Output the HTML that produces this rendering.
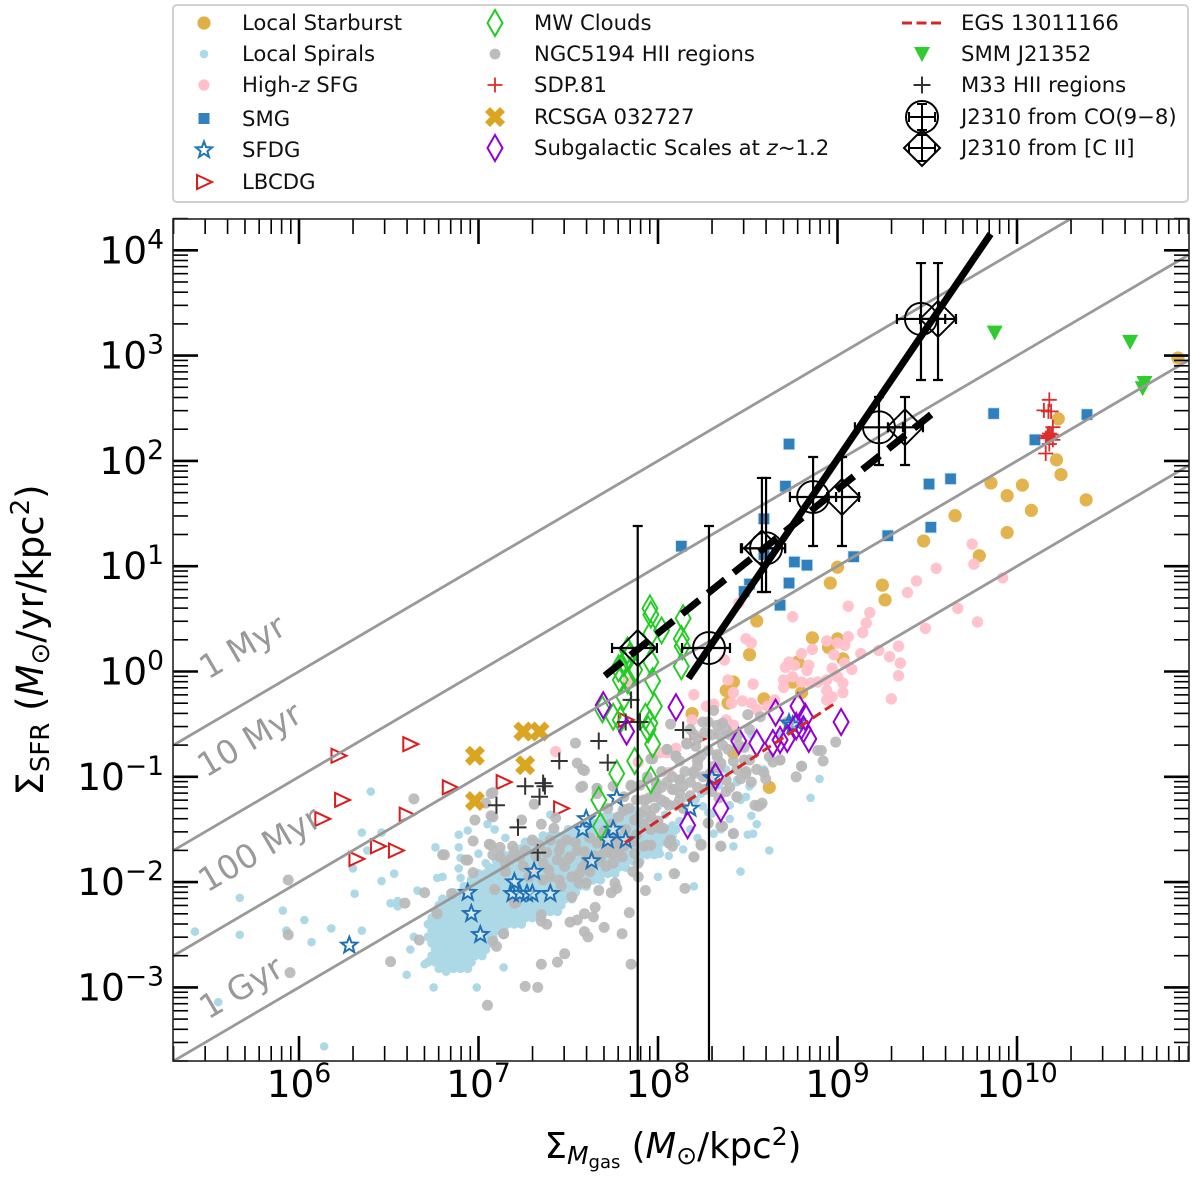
<!DOCTYPE html>
<html lang="en">
<head>
<meta charset="utf-8">
<title>Star formation surface density versus gas surface density</title>
<style>
html,body{margin:0;padding:0;background:#fff;}
svg{display:block;font-family:"DejaVu Sans","Liberation Sans",sans-serif;}
</style>
</head>
<body>
<svg id="chart" xmlns="http://www.w3.org/2000/svg" width="1200" height="1183" viewBox="0 0 1200 1183">
  <defs><clipPath id="plot-clip"><rect x="173" y="219" width="1016" height="842"/></clipPath></defs>
  <rect x="173" y="219" width="1016" height="842" fill="#fff"/>
  <g id="marks" clip-path="url(#plot-clip)"></g>
  <g id="ticks"></g>
  <rect x="173" y="219" width="1016" height="842" fill="none" stroke="#222" stroke-width="1.6"/>
  <g id="tick-labels" font-size="37.5" fill="#000"></g>

  <g font-size="33" fill="#999">
    <text transform="translate(208 680) rotate(-30.4)">1 Myr</text>
    <text transform="translate(206 778) rotate(-30.4)">10 Myr</text>
    <text transform="translate(207 893) rotate(-30.4)">100 Myr</text>
    <text transform="translate(208 1020) rotate(-30.4)">1 Gyr</text>
  </g>

  <text transform="translate(43 640) rotate(-90)" text-anchor="middle" font-size="37">Σ<tspan font-size="26" dy="6">SFR</tspan><tspan dy="-6"> (</tspan><tspan font-style="italic">M</tspan><tspan font-size="26" dy="6">⊙</tspan><tspan dy="-6">/yr/kpc</tspan><tspan font-size="26" dy="-14">2</tspan><tspan dy="14">)</tspan></text>
  <text x="673" y="1158" text-anchor="middle" font-size="35.5">Σ<tspan font-size="25" font-style="italic" dy="6">M</tspan><tspan font-size="18" dy="4">gas</tspan><tspan dy="-10"> (</tspan><tspan font-style="italic">M</tspan><tspan font-size="25" dy="6">⊙</tspan><tspan dy="-6">/kpc</tspan><tspan font-size="25" dy="-13">2</tspan><tspan dy="13">)</tspan></text>

  <g>
    <rect x="173" y="5" width="1015" height="197" rx="4" fill="#fff" stroke="#d0d0d0" stroke-width="2"/>
    <g font-size="21.2" fill="#111">
      <g><circle cx="204" cy="23" r="6.6" fill="#e0b048"/><text x="242" y="30">Local Starburst</text></g>
      <g><circle cx="204" cy="54" r="4.3" fill="#add8e6"/><text x="242" y="61">Local Spirals</text></g>
      <g><circle cx="204" cy="85" r="5.6" fill="#ffc0cb"/><text x="242" y="92">High-<tspan font-style="italic">z</tspan> SFG</text></g>
      <g><rect x="198.5" y="113" width="11" height="11" fill="#3182bd"/><text x="242" y="126">SMG</text></g>
      <g><path d="M204 141.5L206.1 147.1 212.1 147.4 207.4 151.2 209 157 204 153.7 199 157 200.6 151.2 195.9 147.4 201.9 147.1Z" fill="#fff" stroke="#1f77b4" stroke-width="2"/><text x="242" y="157">SFDG</text></g>
      <g><path d="M197 175L212 182 197 189Z" fill="none" stroke="#dc1c1c" stroke-width="2"/><text x="242" y="189">LBCDG</text></g>

      <g><path d="M495 10L502.5 23 495 36 487.5 23Z" fill="none" stroke="#22cc22" stroke-width="2"/><text x="534" y="30">MW Clouds</text></g>
      <g><circle cx="495" cy="54" r="5.4" fill="#bdbdbd"/><text x="534" y="61">NGC5194 HII regions</text></g>
      <g><path d="M487.5 85H502.5M495 77.5V92.5" stroke="#dc2c2c" stroke-width="1.8" fill="none"/><text x="534" y="92">SDP.81</text></g>
      <g><path d="M490 107L495 112 500 107 505 112 500 117 505 122 500 127 495 122 490 127 485 122 490 117 485 112Z" fill="#daa520"/><text x="534" y="124">RCSGA 032727</text></g>
      <g><path d="M495 135L502.5 148 495 161 487.5 148Z" fill="none" stroke="#9400d3" stroke-width="2"/><text x="534" y="155">Subgalactic Scales at <tspan font-style="italic">z</tspan>~1.2</text></g>

      <g><path d="M902 23H944" stroke="#d62728" stroke-width="3" stroke-dasharray="10 4.5" fill="none"/><text x="961" y="30">EGS 13011166</text></g>
      <g><path d="M914 47H930L922 62Z" fill="#2ecc2e"/><text x="961" y="61">SMM J21352</text></g>
      <g><path d="M913.5 85H930.5M922 76.5V93.5" stroke="#333" stroke-width="2" fill="none"/><text x="961" y="92">M33 HII regions</text></g>
      <g fill="none" stroke="#000" stroke-width="2"><circle cx="922" cy="117" r="16"/><path d="M909 117H935M909 112V122M935 112V122M922 104V130M917 104H927M917 130H927"/><text x="961" y="124" fill="#111" stroke="none">J2310 from CO(9−8)</text></g>
      <g fill="none" stroke="#000" stroke-width="2"><path d="M922 130L940 148 922 166 904 148Z"/><path d="M909 148H935M909 143V153M935 143V153M922 135V161M917 135H927M917 161H927"/><text x="961" y="155" fill="#111" stroke="none">J2310 from [C II]</text></g>
    </g>
  </g>
</svg>

<script>
// All series are log10(value): x = log10 Sigma_gas (Msun/kpc^2), y = log10 Sigma_SFR (Msun/yr/kpc^2)
const xTickExponents = [6, 7, 8, 9, 10];
const yTickExponents = [-3, -2, -1, 0, 1, 2, 3, 4];
const depletionLogYears = [6, 7, 8, 9];

const localStarburst = [[10.897,2.977],[10.23,2.40],[10.22,2.01],[10.245,1.87],[9.855,1.79],[9.945,1.67],[10.03,1.77],[10.08,1.53],[10.385,1.63],[9.655,1.48],[9.945,1.32],[9.48,1.24],[9.79,1.10],[9.25,0.82],[9.265,0.68],[9.0,0.99],[8.96,0.84],[8.55,0.48],[8.86,0.32],[9.0,0.31],[8.51,0.16],[9.03,0.12],[8.95,0.23],[8.78,0.09],[8.75,-0.10],[8.42,-0.10],[8.38,-0.18],[8.39,-0.30],[8.80,-0.20],[8.59,-0.26],[8.19,-0.40],[8.42,-0.77],[8.62,-1.10]];

const localSpiralsScatter = [[5.42,-2.47],[5.67,-2.15],[5.67,-2.50],[5.91,-2.27],[5.93,-2.46],[6.03,-2.36],[6.07,-2.57],[6.18,-2.44],[6.35,-2.46],[6.31,-2.11],[6.30,-1.87],[6.46,-1.99],[6.53,-1.92],[6.51,-2.20],[6.55,-2.18],[6.55,-2.23],[6.66,-2.08],[5.55,-3.14],[6.14,-3.56],[6.60,-2.88],[6.75,-3.0],[6.99,-3.0],[7.14,-2.81],[6.64,-2.52],[6.62,-2.64],[6.70,-2.78],[6.82,-2.85],[6.40,-1.14],[6.35,-1.53],[6.46,-1.53],[6.38,-1.70],[6.76,-1.67],[6.80,-1.95],[6.77,-1.96],[6.89,-1.55],[6.94,-1.51],[6.89,-1.67],[7.05,-1.45],[7.09,-1.50],[7.15,-1.58],[6.90,-1.77],[7.0,-1.73],[7.04,-1.82],[6.89,-1.87],[6.90,-1.96],[7.40,-1.36],[8.10,-1.92],[8.20,-2.04],[8.42,-1.66],[8.46,-1.90],[8.55,-1.45],[8.58,-1.27],[8.40,-1.27],[8.62,-1.70],[8.85,-1.20],[8.44,-1.05],[8.30,-1.35],[8.90,-1.02],[8.50,-1.55],[8.00,-1.95],[8.52,-0.60],[8.80,-0.45],[8.68,-0.60],[8.52,-1.37],[8.53,-1.54],[8.31,-1.54],[8.35,-1.50],[8.25,-1.28],[8.28,-1.34],[8.38,-0.93],[8.44,-1.03],[8.51,-1.09],[8.49,-1.19],[8.59,-0.93],[8.14,-1.69],[8.06,-1.75],[8.10,-1.63],[8.01,-1.73],[7.94,-1.54],[8.13,-1.01],[8.21,-1.22],[8.24,-1.16],[8.12,-1.42],[8.18,-1.50],[8.22,-1.58],[8.04,-1.36],[8.08,-1.46],[8.00,-1.28],[8.16,-1.20],[8.34,-1.08],[8.40,-1.40],[8.46,-1.22]];

const localSpiralsCoreY = [-2.82,-2.76,-2.70,-2.64,-2.58,-2.52,-2.46,-2.40,-2.34,-2.28,-2.22,-2.16,-2.10,-2.04,-1.98,-1.92,-1.86,-1.80,-1.74,-1.68,-1.62,-1.56,-1.50,-1.44,-1.38,-1.32];
const localSpiralsCoreX = [
[6.78,6.82,6.86,6.90,6.94],
[6.72,6.76,6.80,6.84,6.88,6.92,6.96],
[6.74,6.78,6.82,6.86,6.90,6.94,6.98,7.02],
[6.76,6.80,6.84,6.88,6.92,6.96,7.00,7.04],
[6.74,6.78,6.82,6.86,6.90,6.94,6.98,7.02,7.06],
[6.72,6.76,6.80,6.84,6.88,6.92,6.96,7.00,7.04,7.08],
[6.74,6.78,6.82,6.86,6.90,6.94,6.98,7.02,7.06,7.10,7.14],
[6.72,6.76,6.80,6.84,6.88,6.92,6.96,7.00,7.04,7.08,7.12,7.16,7.20,7.24],
[6.74,6.78,6.82,6.86,6.90,6.94,6.98,7.02,7.06,7.10,7.14,7.18,7.22,7.26,7.30,7.34],
[6.76,6.80,6.84,6.88,6.92,6.96,7.00,7.04,7.08,7.12,7.16,7.20,7.24,7.28,7.32,7.36,7.40,7.44],
[6.78,6.82,6.86,6.90,6.94,6.98,7.02,7.06,7.10,7.14,7.18,7.22,7.26,7.30,7.34,7.38,7.42,7.46],
[6.80,6.84,6.88,6.92,6.96,7.00,7.04,7.08,7.12,7.16,7.20,7.24,7.28,7.32,7.36,7.40,7.44,7.48,7.52],
[6.86,6.90,6.94,6.98,7.02,7.06,7.10,7.14,7.18,7.22,7.26,7.30,7.34,7.38,7.42,7.46,7.50,7.54],
[6.92,6.96,7.00,7.04,7.08,7.12,7.16,7.20,7.24,7.28,7.32,7.36,7.40,7.44,7.48,7.52,7.56,7.60],
[6.96,7.00,7.04,7.08,7.12,7.16,7.20,7.24,7.28,7.32,7.36,7.40,7.44,7.48,7.52,7.56,7.60,7.64,7.68],
[7.00,7.04,7.08,7.12,7.16,7.20,7.24,7.28,7.32,7.36,7.40,7.44,7.48,7.52,7.56,7.60,7.64,7.68,7.72,7.76],
[7.06,7.10,7.14,7.18,7.22,7.26,7.30,7.34,7.38,7.42,7.46,7.50,7.54,7.58,7.62,7.66,7.70,7.74,7.78,7.82],
[7.10,7.14,7.18,7.22,7.26,7.30,7.34,7.38,7.42,7.46,7.50,7.54,7.58,7.62,7.66,7.70,7.74,7.78,7.82,7.86,7.90],
[7.14,7.18,7.22,7.26,7.30,7.34,7.38,7.42,7.46,7.50,7.54,7.58,7.62,7.66,7.70,7.74,7.78,7.82,7.86,7.90,7.94,7.98],
[7.20,7.24,7.28,7.32,7.36,7.40,7.44,7.48,7.52,7.56,7.60,7.64,7.68,7.72,7.76,7.80,7.84,7.88,7.92,7.96,8.00],
[7.26,7.30,7.34,7.38,7.42,7.46,7.50,7.54,7.58,7.62,7.66,7.70,7.74,7.78,7.82,7.86,7.90,7.94,7.98,8.02,8.06],
[7.36,7.40,7.44,7.48,7.52,7.56,7.60,7.64,7.68,7.72,7.76,7.80,7.84,7.88,7.92,7.96,8.00,8.04,8.08],
[7.50,7.54,7.58,7.62,7.66,7.70,7.74,7.78,7.82,7.86,7.90,7.94,7.98,8.02,8.06,8.10],
[7.60,7.64,7.68,7.72,7.76,7.80,7.84,7.88,7.92,7.96,8.00],
[7.70,7.74,7.78,7.82,7.86,7.90,7.94],
[7.80,7.84,7.88]
];

const highZSfg = [[9.75,1.21],[9.76,1.02],[9.55,0.98],[9.44,0.86],[9.39,0.75],[9.92,0.89],[9.67,0.60],[9.78,0.47],[9.06,0.62],[9.18,0.56],[8.75,0.52],[8.45,0.65],[9.16,0.46],[9.14,0.37],[9.06,0.33],[8.94,0.29],[9.0,0.27],[9.04,0.25],[8.98,0.16],[8.49,0.31],[8.52,0.27],[8.80,0.17],[8.86,0.21],[9.13,0.17],[9.23,0.20],[9.29,0.14],[9.34,0.24],[9.35,0.08],[9.34,-0.04],[9.30,-0.26],[8.73,0.09],[8.71,0.04],[8.76,0.06],[8.84,0.06],[8.83,0.01],[8.97,0.03],[9.08,0.02],[9.04,0.08],[8.70,-0.08],[8.70,-0.15],[8.75,-0.05],[8.80,-0.10],[8.85,-0.11],[8.89,-0.10],[8.94,-0.08],[9.00,-0.05],[9.03,-0.11],[9.03,-0.20],[8.94,-0.18],[8.97,-0.24],[8.94,-0.27],[8.53,-0.12],[8.37,0.11],[8.39,-0.08],[8.42,-0.20],[8.41,-0.30],[8.20,-0.22],[8.27,-0.33],[8.31,-0.31],[8.47,-0.28],[8.52,-0.30],[8.55,-0.36],[8.61,-0.33],[8.65,-0.27],[8.19,-0.46],[8.38,-0.46],[8.42,-0.51],[8.10,-0.73],[8.01,-0.77],[8.05,-0.77],[7.89,-0.86],[8.22,-0.85],[7.83,-0.10],[7.43,-0.76],[8.06,-0.96],[9.49,0.41]];

const lbcdg = [[6.22,-0.80],[6.62,-0.69],[6.24,-1.22],[6.13,-1.40],[6.60,-1.36],[6.84,-1.10],[7.14,-1.05],[7.46,-1.30],[6.44,-1.66],[6.54,-1.70],[6.32,-1.78],[7.82,-0.46],[8.22,-0.64]];

const ngc5194 = [[7.54,-0.68],[7.55,-0.87],[7.59,-0.94],[7.57,-1.10],[7.08,-1.15],[7.31,-1.26],[7.35,-1.45],[7.43,-1.39],[7.08,-1.38],[7.07,-1.65],[7.12,-1.67],[7.19,-1.66],[7.30,-1.60],[7.49,-1.60],[7.08,-1.74],[7.15,-1.82],[7.23,-1.76],[7.36,-1.82],[7.39,-1.88],[7.44,-1.79],[7.51,-1.76],[7.59,-1.71],[7.66,-1.63],[7.66,-1.11],[7.81,-1.32],[7.87,-1.41],[7.77,-1.57],[7.68,-1.60],[7.74,-1.73],[7.81,-1.66],[7.75,-1.82],[7.71,-1.85],[7.56,-1.92],[7.56,-2.01],[7.60,-2.01],[7.76,-2.01],[7.77,-2.06],[7.67,-2.08],[7.74,-2.10],[7.93,-2.08],[7.52,-2.14],[7.45,-1.98],[7.46,-2.04],[7.09,-2.07],[7.20,-2.20],[7.65,-2.24],[7.59,-2.30],[7.55,-2.36],[7.64,-2.33],[7.51,-2.38],[7.70,-2.43],[7.80,-2.49],[7.84,-2.29],[7.35,-2.31],[7.35,-2.37],[7.38,-2.40],[7.14,-2.49],[7.08,-2.56],[7.10,-2.61],[7.59,-2.47],[7.61,-2.52],[7.48,-2.68],[7.44,-2.76],[7.35,-2.78],[7.85,-2.78],[7.26,-2.99],[7.33,-3.00],[7.05,-3.17],[8.09,-1.92],[8.15,-2.06],[7.89,-1.95],[7.86,-1.90],[7.89,-1.82],[7.87,-1.73],[7.92,-1.66],[7.96,-1.65],[8.06,-1.63],[8.08,-1.66],[8.20,-1.76],[8.24,-1.64],[8.35,-1.66],[8.42,-1.54],[8.56,-1.28],[8.58,-1.25],[8.44,-1.19],[8.38,-1.14],[8.36,-1.47],[8.80,-0.90],[8.77,-1.00],[8.59,-0.96],[8.49,-0.97],[8.38,-1.03],[8.31,-1.06],[8.28,-1.44],[8.20,-0.95],[8.12,-1.03],[8.09,-1.12],[7.99,-1.06],[7.99,-1.16],[7.93,-1.22],[7.93,-1.31],[7.96,-1.38],[8.03,-1.49],[8.06,-1.27],[8.10,-1.27],[8.05,-0.74],[8.16,-0.68],[8.10,-0.81],[7.96,-0.83],[8.33,-0.79],[8.31,-0.90],[8.48,-0.84],[8.55,-0.93],[8.64,-0.86],[8.68,-0.84],[8.89,-0.75],[7.85,-1.08],[7.81,-1.19],[7.72,-1.30],[7.66,-1.16],[8.31,-0.37],[8.25,-0.48],[8.07,-0.50],[8.33,-0.51],[8.36,-0.49],[8.34,-0.60],[8.50,-0.41],[8.57,-0.43],[8.51,-0.55],[8.39,-0.74],[8.16,-0.69],[8.21,-0.71],[8.10,-0.80],[8.05,-0.74],[7.97,-0.83],[8.22,-0.84],[8.33,-0.81],[8.35,-0.87],[8.72,-0.48],[8.99,-0.67],[8.91,-0.75],[8.92,-0.85],[8.80,-0.90],[8.68,-0.84],[8.62,-0.81],[8.51,-0.84],[8.49,-0.95],[8.44,-0.93],[8.44,-1.19],[8.54,-1.27],[8.42,-1.54],[8.35,-1.66],[8.24,-1.65],[8.20,-1.76],[8.04,-1.24],[8.14,-1.09],[8.08,-1.12],[7.99,-1.12],[7.98,-1.19],[7.92,-1.22],[7.85,-1.09],[7.81,-1.31],[7.75,-1.09],[7.58,-0.93],[7.58,-1.09],[7.66,-1.11],[8.28,-1.44],[8.35,-1.47],[8.01,-1.49],[7.94,-1.65],[7.75,-1.73],[8.07,-1.60],[8.29,-0.97],[8.20,-0.97],[8.12,-1.03],[7.07,-1.16],[7.04,-1.25],[7.07,-1.37],[7.24,-1.41],[6.98,-1.41],[6.64,-1.21],[6.97,-1.61],[7.06,-1.64],[7.42,-1.49],[6.80,-1.74],[6.93,-1.79],[6.97,-1.91],[6.85,-2.11],[6.70,-2.10],[5.94,-1.98],[6.59,-2.20],[6.94,-1.79],[6.81,-1.74],[6.77,-2.30],[5.94,-2.50],[5.95,-2.86],[6.67,-2.55],[6.51,-2.755],[7.14,-2.49],[7.21,-2.19],[7.15,-1.90],[7.2,-1.72],[7.25,-1.85],[7.28,-1.95],[7.32,-1.75],[7.38,-1.72],[7.4,-1.95],[7.45,-1.70],[7.48,-1.85],[7.52,-1.95],[7.55,-1.70],[7.6,-1.80],[7.62,-1.9],[7.65,-1.75],[7.7,-1.72],[7.72,-1.65],[7.78,-1.7],[7.82,-1.5],[7.84,-1.6],[7.88,-1.55],[7.9,-1.35],[7.92,-1.45],[7.95,-1.2],[7.98,-1.3],[8.02,-1.1],[8.05,-1.05],[8.08,-1.0],[8.12,-1.15],[8.15,-0.95],[8.18,-1.05],[8.22,-0.9],[8.25,-1.0],[8.28,-0.75],[8.3,-0.6],[8.36,-0.7],[8.4,-0.6],[8.42,-0.85],[8.45,-0.7],[8.2,-0.6],[8.12,-0.85],[8.40,-1.10],[8.46,-1.02],[8.34,-1.20],[8.26,-1.12],[8.52,-1.05],[8.60,-1.02],[8.22,-0.64],[8.26,-0.58],[8.18,-0.55],[8.28,-0.48],[8.38,-0.55],[8.44,-0.62],[8.48,-0.72],[8.34,-0.92],[8.24,-0.80],[8.02,-0.95],[7.94,-1.00],[7.90,-1.08],[7.88,-1.22],[7.84,-1.30],[7.78,-1.38],[7.74,-1.45],[7.70,-1.52],[7.62,-1.58],[7.54,-1.62],[7.46,-1.64],[7.40,-1.60],[7.34,-1.65],[7.26,-1.70],[7.18,-1.78],[7.12,-1.76],[7.30,-1.90],[7.36,-1.98],[7.50,-1.78],[7.58,-1.86],[7.68,-1.80],[7.76,-1.62],[7.80,-1.76],[7.86,-1.62],[7.96,-1.50],[8.00,-1.42],[8.02,-1.22],[8.14,-1.30],[8.18,-1.18],[8.22,-1.10],[8.30,-1.14],[8.12,-1.22]];

const smg = [[8.13,1.19],[8.73,2.16],[8.71,1.76],[8.59,1.45],[8.59,1.11],[8.76,1.04],[8.83,1.01],[8.73,0.84],[8.51,0.83],[8.48,0.76],[8.68,0.63],[9.09,1.09],[9.28,1.29],[9.52,1.37],[9.51,1.78],[9.63,1.83],[9.87,2.45],[10.10,2.20],[10.39,2.44]];

const sfdg = [[7.77,-1.20],[7.60,-1.40],[7.58,-1.50],[7.75,-1.50],[7.72,-1.60],[7.82,-1.60],[7.63,-1.80],[7.31,-1.90],[7.20,-2.00],[7.19,-2.11],[7.23,-2.11],[7.27,-2.11],[7.30,-2.11],[7.40,-2.11],[8.18,-1.30],[8.30,-1.01],[8.73,-0.49],[8.77,-0.48],[8.75,-0.51],[6.28,-2.60],[6.94,-2.10],[6.96,-2.30],[7.01,-2.50]];

const mwClouds = [[7.955,0.60],[7.96,0.54],[8.02,0.39],[7.96,0.36],[8.14,0.505],[8.13,0.31],[8.135,0.24],[8.13,0.05],[7.78,0.03],[7.81,0.08],[7.83,0.20],[7.84,0.14],[7.79,-0.08],[7.83,-0.08],[7.87,0.015],[7.96,0.09],[7.97,-0.09],[7.81,-0.24],[7.98,-0.33],[7.69,-0.36],[7.75,-0.43],[7.79,-0.46],[7.93,-0.43],[7.955,-0.49],[7.945,-0.55],[7.97,-0.69],[7.87,-0.85],[7.77,-0.97],[7.96,-1.03],[7.67,-1.22],[7.68,-1.47]];

const subgalactic = [[7.695,-0.32],[7.825,-0.57],[8.10,-0.34],[8.45,-0.66],[8.55,-0.68],[8.64,-0.68],[8.68,-0.65],[8.72,-0.64],[8.655,-0.39],[8.78,-0.33],[8.82,-0.43],[8.77,-0.52],[8.81,-0.55],[8.84,-0.64],[9.02,-0.48],[8.32,-0.998],[8.35,-1.30],[8.165,-1.46]];

const rcsga = [[6.98,-0.80],[7.25,-0.57],[7.34,-0.57],[7.26,-0.89],[6.98,-1.23]];

const m33 = [[7.10,-1.27],[7.26,-1.09],[7.36,-1.06],[7.37,-1.09],[7.34,-1.19],[7.22,-1.48],[7.33,-1.72],[7.45,-0.85],[7.67,-0.66],[7.72,-0.865],[7.85,-0.27],[7.82,-0.48],[7.90,-0.48],[8.14,-0.555]];

const sdp81 = [[10.18,2.58],[10.15,2.48],[10.175,2.47],[10.19,2.47],[10.20,2.32],[10.18,2.26],[10.16,2.215],[10.20,2.20],[10.175,2.23],[10.18,2.16],[10.16,2.07],[10.17,2.24],[10.19,2.25]];

const smmJ21352 = [[9.876,3.218],[10.63,3.13],[10.70,2.69],[10.71,2.74]];

const egsLine = [[7.816,-1.625],[9.0,-0.286]];
const fitCo98 = [[8.17,-0.064],[9.853,4.155]];
const fitCii = [[7.704,-0.04],[9.565,2.50]];

// [x, y, xLow, xHigh, yLow, yHigh]
const j2310Co = [[8.284,0.223,8.134,8.401,-4,1.382],[8.602,1.17,8.468,8.708,0.755,1.838],[8.864,1.657,8.735,8.992,1.192,2.037],[9.231,2.319,9.097,9.365,1.961,2.607],[9.465,3.348,9.331,9.60,2.768,3.879]];
const j2310Cii = [[7.887,0.223,7.744,7.994,-4,1.382],[8.579,1.17,8.462,8.708,0.755,1.838],[9.025,1.657,8.942,9.12,1.192,2.037],[9.376,2.319,9.281,9.476,1.961,2.607],[9.56,3.348,9.46,9.66,2.768,3.879]];

const SVGNS = 'http://www.w3.org/2000/svg';
const xDomain = [5.298, 10.958];
const yDomain = [-3.7, 4.297];
function sx(v) { return 299 + 179.5 * (v - 6); }
function sy(v) { return 250.3 + 105.3 * (4 - v); }
const marks = document.getElementById('marks');
const ticks = document.getElementById('ticks');
const tickLabels = document.getElementById('tick-labels');

function make(tag, parent, name) {
  const el = document.createElementNS(SVGNS, tag);
  
  
  parent.appendChild(el);
  return el;
}
function group(name) { return make('g', marks, name); }
function dots(points, name, r, fill, opacity) {
  const g = group(name);
  points.forEach(function (p) {
    const c = make('circle', g, name + '-point');
    c.setAttribute('cx', sx(p[0]));
    c.setAttribute('cy', sy(p[1]));
    c.setAttribute('r', r);
    c.setAttribute('fill', fill);
    if (opacity) c.setAttribute('opacity', opacity);
  });
}
function shapes(points, name, pathFn, style) {
  const g = group(name);
  points.forEach(function (p) {
    const s = make('path', g, name + '-point');
    s.setAttribute('d', pathFn(sx(p[0]), sy(p[1])));
    Object.keys(style).forEach(function (k) { s.setAttribute(k, style[k]); });
  });
}
function squarePath(x, y) { return 'M' + (x - 5.7) + ' ' + (y - 5.7) + 'h11.4v11.4h-11.4Z'; }
function diamondPath(x, y) { return 'M' + x + ' ' + (y - 13) + 'L' + (x + 7.5) + ' ' + y + 'L' + x + ' ' + (y + 13) + 'L' + (x - 7.5) + ' ' + y + 'Z'; }
function rightTrianglePath(x, y) { return 'M' + (x - 7) + ' ' + (y - 7) + 'L' + (x + 8) + ' ' + y + 'L' + (x - 7) + ' ' + (y + 7) + 'Z'; }
function downTrianglePath(x, y) { return 'M' + (x - 8) + ' ' + (y - 7) + 'H' + (x + 8) + 'L' + x + ' ' + (y + 8) + 'Z'; }
function plusPath(h) { return function (x, y) { return 'M' + (x - h) + ' ' + y + 'H' + (x + h) + 'M' + x + ' ' + (y - h) + 'V' + (y + h); }; }
function xPath(x, y) {
  const u = [[-1,-2],[0,-1],[1,-2],[2,-1],[1,0],[2,1],[1,2],[0,1],[-1,2],[-2,1],[-1,0],[-2,-1]];
  return 'M' + u.map(function (q) { return (x + q[0] * 5) + ' ' + (y + q[1] * 5); }).join('L') + 'Z';
}
function starPath(x, y) {
  let d = '';
  for (let i = 0; i < 10; i++) {
    const rad = i % 2 ? 3.6 : 8.5;
    const a = -Math.PI / 2 + i * Math.PI / 5;
    d += (i ? 'L' : 'M') + (x + rad * Math.cos(a)).toFixed(1) + ' ' + (y + rad * Math.sin(a)).toFixed(1);
  }
  return d + 'Z';
}
function polyLine(points, name, stroke, width, dash) {
  const l = make('line', marks, name);
  l.setAttribute('x1', sx(points[0][0]));
  l.setAttribute('y1', sy(points[0][1]));
  l.setAttribute('x2', sx(points[1][0]));
  l.setAttribute('y2', sy(points[1][1]));
  l.setAttribute('stroke', stroke);
  l.setAttribute('stroke-width', width);
  if (dash) l.setAttribute('stroke-dasharray', dash);
}
function errorBars(points, name, marker) {
  const g = group(name);
  points.forEach(function (p) {
    const x = sx(p[0]), y = sy(p[1]);
    const xl = sx(p[2]), xh = sx(p[3]), yl = sy(p[4]), yh = sy(p[5]);
    const e = make('path', g, name + '-error-bars');
    e.setAttribute('d', 'M' + xl + ' ' + y + 'H' + xh + 'M' + xl + ' ' + (y - 5) + 'V' + (y + 5) + 'M' + xh + ' ' + (y - 5) + 'V' + (y + 5) +
      'M' + x + ' ' + yl + 'V' + yh + 'M' + (x - 5) + ' ' + yl + 'H' + (x + 5) + 'M' + (x - 5) + ' ' + yh + 'H' + (x + 5));
    e.setAttribute('fill', 'none');
    e.setAttribute('stroke', '#000');
    e.setAttribute('stroke-width', '2.2');
    const m = make('path', g, name + '-marker');
    m.setAttribute('d', marker(x, y));
    m.setAttribute('fill', 'none');
    m.setAttribute('stroke', '#000');
    m.setAttribute('stroke-width', '1.9');
  });
}
function circlePath(x, y) { return 'M' + (x - 16) + ' ' + y + 'a16 16 0 1 0 32 0a16 16 0 1 0 -32 0Z'; }
function bigDiamondPath(x, y) { return 'M' + x + ' ' + (y - 18) + 'L' + (x + 18) + ' ' + y + 'L' + x + ' ' + (y + 18) + 'L' + (x - 18) + ' ' + y + 'Z'; }

// Scatter series
dots(localStarburst, 'local-starburst', 6.6, '#e0ac3a', 0.9);
const coreGroupPoints = [];
localSpiralsCoreY.forEach(function (y, i) {
  localSpiralsCoreX[i].forEach(function (x) { coreGroupPoints.push([x, y]); });
});
dots(coreGroupPoints, 'local-spirals-core', 4.6, '#add8e6');
dots(localSpiralsScatter, 'local-spirals', 4.3, '#add8e6');
dots(highZSfg, 'high-z-sfg', 5.7, '#ffc0cb', 0.95);
shapes(lbcdg, 'lbcdg', rightTrianglePath, {fill: 'none', stroke: '#dc1c1c', 'stroke-width': 2});
dots(ngc5194, 'ngc5194-hii-regions', 5.5, '#b8b8b8', 0.92);
shapes(smg, 'smg', squarePath, {fill: '#2f80bd', stroke: '#cfe3f3', 'stroke-width': 0.8});
shapes(sfdg, 'sfdg', starPath, {fill: 'rgba(255,255,255,0.45)', stroke: '#1f70b4', 'stroke-width': 2});
shapes(mwClouds, 'mw-clouds', diamondPath, {fill: 'none', stroke: '#22cc22', 'stroke-width': 1.9});
shapes(m33, 'm33-hii-regions', plusPath(8.5), {fill: 'none', stroke: '#333', 'stroke-width': 2});
shapes(subgalactic, 'subgalactic-scales', diamondPath, {fill: 'none', stroke: '#9400d3', 'stroke-width': 2});
shapes(rcsga, 'rcsga-032727', xPath, {fill: '#daa520'});
shapes(sdp81, 'sdp81', plusPath(7.5), {fill: 'none', stroke: '#dc2c2c', 'stroke-width': 1.8});
shapes(smmJ21352, 'smm-j21352', downTrianglePath, {fill: '#2ecc2e'});

// Constant depletion-time lines
depletionLogYears.forEach(function (t) {
  const l = make('line', marks, 'depletion-line-' + t);
  l.setAttribute('x1', sx(xDomain[0]));
  l.setAttribute('y1', sy(xDomain[0] - t));
  l.setAttribute('x2', sx(xDomain[1]));
  l.setAttribute('y2', sy(xDomain[1] - t));
  l.setAttribute('stroke', '#999');
  l.setAttribute('stroke-width', '2.8');
});

polyLine(egsLine, 'egs-13011166-line', '#d62728', 3, '10 5');
polyLine(fitCo98, 'j2310-co-fit-line', '#000', 7);
polyLine(fitCii, 'j2310-cii-fit-line', '#000', 7, '22 11');
errorBars(j2310Co, 'j2310-co', circlePath);
errorBars(j2310Cii, 'j2310-cii', bigDiamondPath);

// Axis ticks
function tick(x1, y1, x2, y2, w, name) {
  const l = make('line', ticks, name);
  l.setAttribute('x1', x1);
  l.setAttribute('y1', y1);
  l.setAttribute('x2', x2);
  l.setAttribute('y2', y2);
  l.setAttribute('stroke', '#000');
  l.setAttribute('stroke-width', w);
}
const minorFactors = [2, 3, 4, 5, 6, 7, 8, 9];
for (let d = 5; d <= 10; d++) {
  if (d >= 6) {
    tick(sx(d), 219, sx(d), 244, 2.6, 'x-major-tick-top');
    tick(sx(d), 1061, sx(d), 1036, 2.6, 'x-major-tick-bottom');
  }
  minorFactors.forEach(function (f) {
    const v = d + Math.log10(f);
    if (v >= xDomain[0] && v <= xDomain[1]) {
      tick(sx(v), 219, sx(v), 234, 1.6, 'x-minor-tick-top');
      tick(sx(v), 1061, sx(v), 1046, 1.6, 'x-minor-tick-bottom');
    }
  });
}
for (let d = -4; d <= 4; d++) {
  if (d >= -3) {
    tick(173, sy(d), 198, sy(d), 2.6, 'y-major-tick-left');
    tick(1189, sy(d), 1164, sy(d), 2.6, 'y-major-tick-right');
  }
  minorFactors.forEach(function (f) {
    const v = d + Math.log10(f);
    if (v >= yDomain[0] - 0.01 && v <= yDomain[1] + 0.01) {
      tick(173, sy(v), 188, sy(v), 1.6, 'y-minor-tick-left');
      tick(1189, sy(v), 1174, sy(v), 1.6, 'y-minor-tick-right');
    }
  });
}

// Tick labels
function powerLabel(exp, name, x, y, anchor) {
  const t = make('text', tickLabels, name);
  t.setAttribute('x', x);
  t.setAttribute('y', y);
  t.setAttribute('text-anchor', anchor);
  t.appendChild(document.createTextNode('10'));
  const s = document.createElementNS(SVGNS, 'tspan');
  s.setAttribute('font-size', '26.5');
  s.setAttribute('dy', '-15');
  s.textContent = String(exp).replace('-', '\u2212');
  t.appendChild(s);
}
xTickExponents.forEach(function (e) { powerLabel(e, 'x-tick-label', sx(e), 1097, 'middle'); });
yTickExponents.forEach(function (e) { powerLabel(e, 'y-tick-label', 164, sy(e) + 13, 'end'); });
</script>
</body>
</html>
